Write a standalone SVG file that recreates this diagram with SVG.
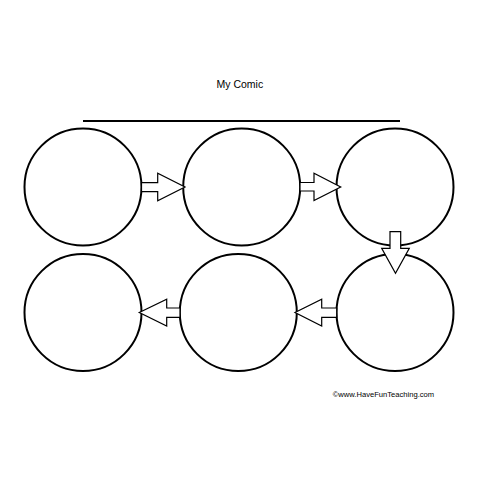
<svg xmlns="http://www.w3.org/2000/svg" width="480" height="480" viewBox="0 0 480 480">
<style>
.panel{fill:#fff;stroke:#000;stroke-width:2}
.arr{fill:#fff;stroke:#000;stroke-width:1.2;stroke-linejoin:miter}
.t{font-family:"Liberation Sans",Arial,sans-serif;fill:#000}
</style>
<rect width="480" height="480" fill="#fff"/>
<text class="t" x="216.5" y="88.3" font-size="10.5">My Comic</text>
<line x1="83" y1="121" x2="400" y2="121" stroke="#000" stroke-width="2"/>
<g id="panel1"><circle class="panel" cx="83" cy="187" r="58.5"/></g>
<g id="panel2"><circle class="panel" cx="241.7" cy="187" r="58.5"/></g>
<g id="panel3"><circle class="panel" cx="395" cy="187" r="58.5"/></g>
<g id="panel4"><circle class="panel" cx="83" cy="312.5" r="58.5"/></g>
<g id="panel5"><circle class="panel" cx="238.3" cy="312.5" r="58.5"/></g>
<g id="panel6"><circle class="panel" cx="395" cy="312.5" r="58.5"/></g>
<g id="connectors">
<polygon class="arr" points="141.5,182.7 157.7,182.7 157.7,173.3 185,187 157.7,200.7 157.7,191.7 141.5,191.7"/>
<polygon class="arr" points="300,182.5 314,182.5 314,173.3 340.7,187 314,200.5 314,191 300,191"/>
<polygon class="arr" points="390,231.7 400.7,231.7 400.7,248.3 409.3,248.3 395.5,273.3 381.7,248.3 390,248.3"/>
<polygon class="arr" points="336.7,308 321.7,308 321.7,299.3 295,312.5 321.7,326 321.7,317.3 336.7,317.3"/>
<polygon class="arr" points="180,308 166.7,308 166.7,299.3 139.3,312.5 166.7,326 166.7,317.3 180,317.3"/>
</g>
<text class="t" x="332.7" y="397.3" font-size="7.6">©www.HaveFunTeaching.com</text>
</svg>
